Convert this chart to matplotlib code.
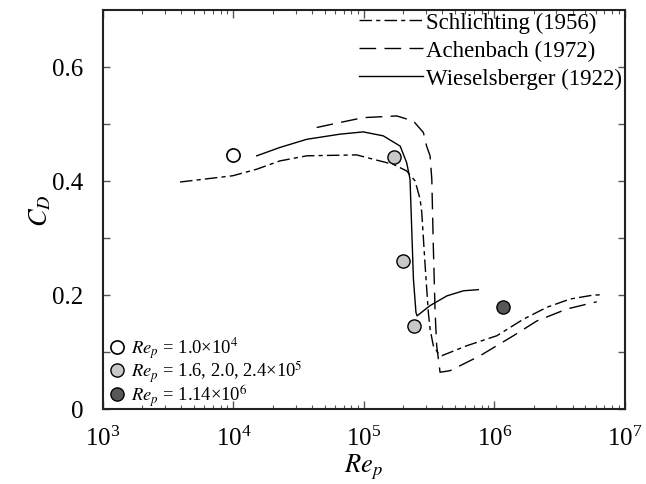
import matplotlib
matplotlib.use("Agg")
import matplotlib.pyplot as plt
from matplotlib.ticker import LogLocator, FixedLocator, FuncFormatter, NullFormatter

# ---------------- data ----------------
schlichting_re = [3.9e3, 9.9e3, 1.51e4, 2.27e4, 3.65e4, 8.8e4, 1.18e5, 1.68e5, 2.13e5, 2.47e5,
                  2.70e5, 2.78e5, 2.94e5, 3.12e5, 3.22e5, 3.41e5, 3.70e5, 3.96e5,
                  6.15e5, 1.045e6, 1.67e6, 2.53e6, 3.81e6, 5.75e6, 6.87e6]
schlichting_cd = [0.398, 0.409, 0.4205, 0.435, 0.444, 0.4456, 0.438, 0.429, 0.4175, 0.40,
                  0.368, 0.345, 0.257, 0.170, 0.140, 0.1105, 0.098, 0.093,
                  0.1105, 0.128, 0.157, 0.178, 0.1925, 0.1995, 0.200]

achenbach_re = [4.35e4, 6.57e4, 9.9e4, 1.79e5, 2.40e5, 2.86e5, 3.03e5, 3.22e5, 3.32e5, 3.41e5,
                3.52e5, 3.62e5, 3.84e5, 4.58e5, 7.79e5, 1.40e6, 2.12e6, 3.6e6, 6.1e6]
achenbach_cd = [0.4937, 0.5025, 0.511, 0.514, 0.505, 0.485, 0.461, 0.444, 0.403, 0.286,
                0.169, 0.1105, 0.064, 0.0667, 0.093, 0.128, 0.154, 0.175, 0.1877]

wiesels_re = [1.51e4, 2.27e4, 3.65e4, 6.57e4, 9.9e4, 1.41e5, 1.90e5, 2.13e5, 2.26e5, 2.33e5,
              2.40e5, 2.51e5, 2.56e5, 3.22e5, 4.33e5, 5.80e5, 7.55e5]
wiesels_cd = [0.444, 0.4586, 0.473, 0.482, 0.486, 0.479, 0.461, 0.432, 0.403, 0.315,
              0.228, 0.169, 0.163, 0.181, 0.198, 0.207, 0.209]

exp1_re = [1.0e4]
exp1_cd = [0.445]
exp2_re = [1.7e5, 2.0e5, 2.44e5]
exp2_cd = [0.442, 0.26, 0.145]
exp3_re = [1.16e6]
exp3_cd = [0.179]

curve_labels = ["Schlichting (1956)", "Achenbach (1972)", "Wieselsberger (1922)"]
marker_labels = [r"$Re_p$ = 1.0×10$^4$", r"$Re_p$ = 1.6, 2.0, 2.4×10$^5$", r"$Re_p$ = 1.14×10$^6$"]
ytick_vals = [0, 0.2, 0.4, 0.6]
ytick_labels = ["0", "0.2", "0.4", "0.6"]

# ---------------- style ----------------
plt.rcParams["font.family"] = ["Liberation Serif", "DejaVu Serif"]
plt.rcParams["mathtext.fontset"] = "stix"

fig = plt.figure(figsize=(6.46, 4.85), dpi=100)
ax = fig.add_axes([0.1594, 0.1553, 0.967 - 0.1594, 0.9773 - 0.1553])

lw = 1.0
l1, = ax.plot(schlichting_re, schlichting_cd, color="black", lw=lw, label=curve_labels[0])
l1.set_dashes((9, 3, 3, 3))
l2, = ax.plot(achenbach_re, achenbach_cd, color="black", lw=lw, label=curve_labels[1])
l2.set_dashes((12, 6))
l3, = ax.plot(wiesels_re, wiesels_cd, color="black", lw=lw, label=curve_labels[2])

ms = 9.5
m1, = ax.plot(exp1_re, exp1_cd, "o", ms=ms, mfc="white", mec="black", mew=1.2, ls="none",
              label=marker_labels[0])
m2, = ax.plot(exp2_re, exp2_cd, "o", ms=ms, mfc="#c8c8c8", mec="black", mew=1.0, ls="none",
              label=marker_labels[1])
m3, = ax.plot(exp3_re, exp3_cd, "o", ms=ms, mfc="#585858", mec="black", mew=1.0, ls="none",
              label=marker_labels[2])

ax.set_xscale("log")
ax.set_xlim(1e3, 1e7)
ax.set_ylim(0, 0.7)

ax.xaxis.set_major_locator(LogLocator(base=10, numticks=10))
ax.xaxis.set_minor_locator(LogLocator(base=10, subs=range(2, 10), numticks=20))
ax.xaxis.set_minor_formatter(NullFormatter())
ax.yaxis.set_major_locator(FixedLocator(ytick_vals))
ax.yaxis.set_major_formatter(FuncFormatter(lambda v, p: ytick_labels[ytick_vals.index(round(v, 1))]
                                           if round(v, 1) in ytick_vals else ""))
ax.yaxis.set_minor_locator(FixedLocator([0.1, 0.3, 0.5]))

ax.tick_params(which="both", direction="in", top=True, right=True, labelsize=18,
               color="#555555")
ax.tick_params(axis="x", which="major", length=6, width=1.0, pad=12)
ax.tick_params(axis="x", which="minor", length=3, width=0.8)
ax.tick_params(axis="y", which="both", length=5, width=1.0, pad=14)

for s in ax.spines.values():
    s.set_linewidth(1.5)
    s.set_color("#222222")

ax.set_xlabel(r"$Re_p$", fontsize=19)
ax.set_ylabel(r"$C_D$", fontsize=19)
ax.xaxis.set_label_coords(0.5, -0.108)
ax.yaxis.set_label_coords(-0.095, 0.5)

leg1 = ax.legend(handles=[l1, l2, l3], loc="upper right", bbox_to_anchor=(1.0, 1.0),
                 frameon=False, fontsize=16.5, handlelength=2.8, handletextpad=0.15,
                 labelspacing=0.28, borderaxespad=0.0, borderpad=0.1)
ax.add_artist(leg1)
ax.legend(handles=[m1, m2, m3], loc="lower left", bbox_to_anchor=(0.01, 0.0),
          frameon=False, fontsize=13.3, handlelength=0.8, handletextpad=0.4,
          labelspacing=-0.12, borderaxespad=0.0, borderpad=0.05)

fig.savefig("out.png", dpi=100)
